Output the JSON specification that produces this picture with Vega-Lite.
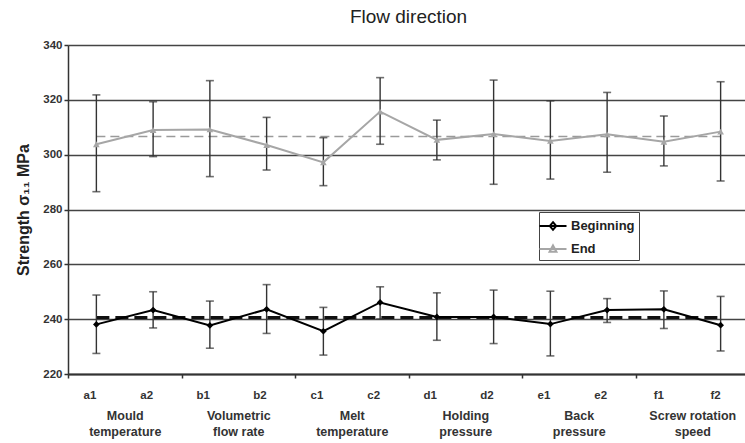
{
  "$schema": "https://vega.github.io/schema/vega-lite/v6.json",
  "autosize": {"type": "none"},
  "width": 681,
  "height": 329,
  "padding": {"left": 68, "top": 45, "right": 0, "bottom": 69},
  "background": "white",
  "config": {
    "view": {"stroke": null},
    "font": "Liberation Sans",
    "axis": {"labelFont": "Liberation Sans", "titleFont": "Liberation Sans"},
    "legend": {"labelFont": "Liberation Sans"}
  },
  "title": {
    "text": "Flow direction",
    "fontSize": 19,
    "fontWeight": "normal",
    "color": "#222",
    "anchor": "middle",
    "offset": 12
  },
  "datasets": {
    "rows": [
      {"cat": "a1", "group": "Mould|temperature", "series": "Beginning", "v": 238.1, "lo": 227.5, "hi": 248.8},
      {"cat": "a2", "group": "Mould|temperature", "series": "Beginning", "v": 243.3, "lo": 236.8, "hi": 250.0},
      {"cat": "b1", "group": "Volumetric|flow rate", "series": "Beginning", "v": 237.7, "lo": 229.4, "hi": 246.6},
      {"cat": "b2", "group": "Volumetric|flow rate", "series": "Beginning", "v": 243.6, "lo": 234.8, "hi": 252.6},
      {"cat": "c1", "group": "Melt|temperature", "series": "Beginning", "v": 235.6, "lo": 226.9, "hi": 244.3},
      {"cat": "c2", "group": "Melt|temperature", "series": "Beginning", "v": 246.1, "lo": 240.1, "hi": 251.8},
      {"cat": "d1", "group": "Holding|pressure", "series": "Beginning", "v": 240.8, "lo": 232.3, "hi": 249.6},
      {"cat": "d2", "group": "Holding|pressure", "series": "Beginning", "v": 240.8, "lo": 231.1, "hi": 250.6},
      {"cat": "e1", "group": "Back|pressure", "series": "Beginning", "v": 238.2, "lo": 226.6, "hi": 250.2},
      {"cat": "e2", "group": "Back|pressure", "series": "Beginning", "v": 243.3, "lo": 238.8, "hi": 247.5},
      {"cat": "f1", "group": "Screw rotation|speed", "series": "Beginning", "v": 243.6, "lo": 236.6, "hi": 250.3},
      {"cat": "f2", "group": "Screw rotation|speed", "series": "Beginning", "v": 237.8, "lo": 228.4, "hi": 248.3},
      {"cat": "a1", "group": "Mould|temperature", "series": "End", "v": 303.8, "lo": 286.5, "hi": 321.8},
      {"cat": "a2", "group": "Mould|temperature", "series": "End", "v": 309.0, "lo": 299.3, "hi": 319.3},
      {"cat": "b1", "group": "Volumetric|flow rate", "series": "End", "v": 309.2, "lo": 292.0, "hi": 327.0},
      {"cat": "b2", "group": "Volumetric|flow rate", "series": "End", "v": 303.5, "lo": 294.4, "hi": 313.6},
      {"cat": "c1", "group": "Melt|temperature", "series": "End", "v": 297.2, "lo": 288.7, "hi": 306.2},
      {"cat": "c2", "group": "Melt|temperature", "series": "End", "v": 315.7, "lo": 303.8, "hi": 328.1},
      {"cat": "d1", "group": "Holding|pressure", "series": "End", "v": 305.4, "lo": 298.1, "hi": 312.6},
      {"cat": "d2", "group": "Holding|pressure", "series": "End", "v": 307.5, "lo": 289.2, "hi": 327.2},
      {"cat": "e1", "group": "Back|pressure", "series": "End", "v": 305.0, "lo": 291.1, "hi": 319.6},
      {"cat": "e2", "group": "Back|pressure", "series": "End", "v": 307.4, "lo": 293.6, "hi": 322.7},
      {"cat": "f1", "group": "Screw rotation|speed", "series": "End", "v": 304.7, "lo": 295.9, "hi": 314.1},
      {"cat": "f2", "group": "Screw rotation|speed", "series": "End", "v": 308.4, "lo": 290.4, "hi": 326.6}
    ],
    "means": [
      {"series": "Beginning", "cat": "a1", "v": 240.6},
      {"series": "Beginning", "cat": "f2", "v": 240.6},
      {"series": "End", "cat": "a1", "v": 306.6},
      {"series": "End", "cat": "f2", "v": 306.6}
    ]
  },
  "data": {"name": "rows"},
  "layer": [
    {
      "layer": [
        {
          "data": {"name": "means"},
          "transform": [{"filter": "datum.series === 'End'"}],
          "mark": {"type": "line", "color": "#9a9a9a", "strokeWidth": 1.6, "strokeDash": [9, 5]},
          "encoding": {
            "x": {"field": "cat", "type": "nominal"},
            "y": {"field": "v", "type": "quantitative"}
          }
        },
        {
          "data": {"name": "means"},
          "transform": [{"filter": "datum.series === 'Beginning'"}],
          "mark": {"type": "line", "color": "#111", "strokeWidth": 3, "strokeDash": [13, 6]},
          "encoding": {
            "x": {"field": "cat", "type": "nominal"},
            "y": {"field": "v", "type": "quantitative"}
          }
        },
        {
          "mark": {"type": "rule", "color": "#333", "strokeWidth": 1.4},
          "encoding": {
            "x": {"field": "cat", "type": "nominal"},
            "y": {"field": "lo", "type": "quantitative"},
            "y2": {"field": "hi"}
          }
        },
        {
          "mark": {"type": "tick", "color": "#333", "size": 8, "thickness": 1.6},
          "encoding": {
            "x": {"field": "cat", "type": "nominal"},
            "y": {"field": "lo", "type": "quantitative"}
          }
        },
        {
          "mark": {"type": "tick", "color": "#333", "size": 8, "thickness": 1.6},
          "encoding": {
            "x": {"field": "cat", "type": "nominal"},
            "y": {"field": "hi", "type": "quantitative"}
          }
        },
        {
          "transform": [{"filter": "datum.series === 'End'"}],
          "mark": {"type": "line", "strokeWidth": 2, "color": "#a6a6a6"},
          "encoding": {
            "x": {"field": "cat", "type": "nominal"},
            "y": {"field": "v", "type": "quantitative"}
          }
        },
        {
          "transform": [{"filter": "datum.series === 'Beginning'"}],
          "mark": {"type": "line", "strokeWidth": 2, "color": "#000"},
          "encoding": {
            "x": {
              "field": "cat", "type": "nominal",
              "scale": {"type": "band", "domain": ["a1","a2","b1","b2","c1","c2","d1","d2","e1","e2","f1","f2"], "paddingInner": 0, "paddingOuter": 0},
              "axis": {
                "title": null, "orient": "bottom", "ticks": false, "grid": false,
                "domain": true, "domainColor": "#333", "domainWidth": 2,
                "labelAngle": 0, "labelFontSize": 11.5, "labelFontWeight": "bold", "labelColor": "#333",
                "labelPadding": 21
              }
            },
            "y": {
              "field": "v", "type": "quantitative",
              "scale": {"domain": [220, 340], "nice": false, "zero": false},
              "axis": {
                "title": "Strength σ₁₁ MPa", "titleFontSize": 16, "titleFontWeight": "bold", "titleColor": "#222",
                "titlePadding": 11,
                "values": [220, 240, 260, 280, 300, 320, 340],
                "grid": true, "gridColor": "#444", "gridWidth": 1.5,
                "domain": true, "domainColor": "#333", "domainWidth": 1.5,
                "ticks": true, "tickSize": 4, "tickColor": "#333", "tickWidth": 1.5,
                "labelFontSize": 11.5, "labelFontWeight": "bold", "labelColor": "#333", "labelPadding": 2
              }
            }
          }
        },
        {
          "transform": [{"filter": "datum.series === 'End'"}],
          "mark": {"type": "point", "shape": "triangle-up", "filled": true, "color": "#a6a6a6", "size": 45, "opacity": 1},
          "encoding": {
            "x": {"field": "cat", "type": "nominal"},
            "y": {"field": "v", "type": "quantitative"}
          }
        },
        {
          "transform": [{"filter": "datum.series === 'Beginning'"}],
          "mark": {"type": "point", "shape": "diamond", "filled": true, "color": "#000", "size": 45, "opacity": 1},
          "encoding": {
            "x": {"field": "cat", "type": "nominal"},
            "y": {"field": "v", "type": "quantitative"}
          }
        },
        {
          "mark": {"type": "point", "filled": true, "opacity": 0, "strokeWidth": 2},
          "encoding": {
            "x": {"field": "cat", "type": "nominal"},
            "y": {"field": "v", "type": "quantitative"},
            "fill": {
              "field": "series", "type": "nominal",
              "scale": {"domain": ["Beginning", "End"], "range": ["#000000", "#a6a6a6"]},
              "legend": {
                "title": null, "orient": "none", "legendX": 471, "legendY": 167,
                "padding": 4, "strokeColor": "#444", "fillColor": "white",
                "symbolSize": 324, "symbolStrokeWidth": 2, "rowPadding": 5,
                "labelFontSize": 13, "labelFontWeight": "bold", "labelColor": "#222", "labelOffset": 8,
                "symbolOpacity": 1
              }
            },
            "stroke": {
              "field": "series", "type": "nominal",
              "scale": {"domain": ["Beginning", "End"], "range": ["#000000", "#a6a6a6"]}
            },
            "shape": {
              "field": "series", "type": "nominal",
              "scale": {"domain": ["Beginning", "End"], "range": ["M-1.5,0H1.5M0,-0.42L0.36,0L0,0.42L-0.36,0Z", "M-1.5,0H1.5M0,-0.4L0.38,0.3H-0.38Z"]}
            }
          }
        }
      ]
    },
    {
      "mark": {"type": "rule", "opacity": 0},
      "encoding": {
        "x": {
          "field": "group", "type": "nominal",
          "scale": {"type": "band", "domain": ["Mould|temperature", "Volumetric|flow rate", "Melt|temperature", "Holding|pressure", "Back|pressure", "Screw rotation|speed"], "paddingInner": 0, "paddingOuter": 0},
          "axis": {
            "title": null, "orient": "bottom", "domain": false, "grid": false,
            "ticks": true, "tickBand": "extent", "tickSize": 4, "tickColor": "#333", "tickWidth": 1.5,
            "labelExpr": "datum.value ? split(datum.value, '|') : ''",
            "labelAngle": 0, "labelFontSize": 12.5, "labelFontWeight": "bold", "labelColor": "#333",
            "labelPadding": 31, "labelLineHeight": 16
          }
        }
      }
    }
  ],
  "resolve": {"scale": {"x": "independent"}, "axis": {"x": "independent"}}
}
